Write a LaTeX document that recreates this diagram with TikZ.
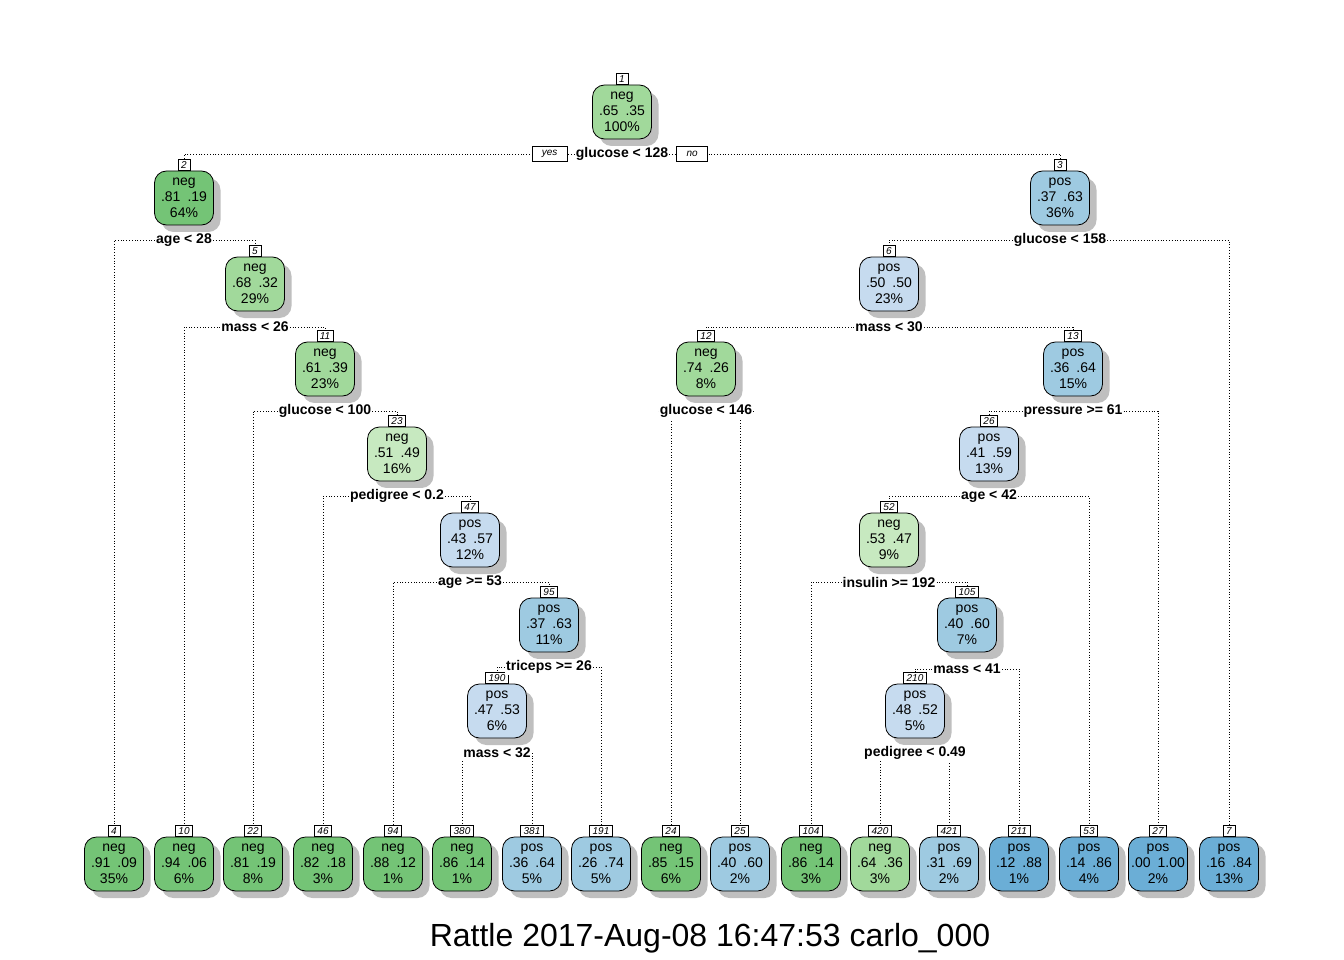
\documentclass[tikz,border=0pt]{standalone}
\usepackage{fontspec}
\setmainfont{Liberation Sans}
\usepackage{tikz}
\usetikzlibrary{positioning}
\usetikzlibrary{shadows}
\usepackage{xcolor}

\definecolor{dkgreen}{HTML}{74C476}
\definecolor{mdgreen}{HTML}{A1D99B}
\definecolor{ltgreen}{HTML}{C7E9C0}
\definecolor{ltblue}{HTML}{C6DBEF}
\definecolor{mdblue}{HTML}{9ECAE1}
\definecolor{dkblue}{HTML}{6BAED6}

\tikzset{
  box/.style={draw, line width=0.8pt, rounded corners=12pt, minimum width=59pt,
    minimum height=54pt, inner sep=0pt, align=center,
    font=\fontsize{14}{16}\selectfont,
    drop shadow={shadow xshift=7pt, shadow yshift=-7pt, fill=black!25, opacity=1}},
  tab/.style={draw, fill=white, line width=0.6pt, anchor=south, inner xsep=3pt,
    inner ysep=0pt, minimum width=12pt, minimum height=11pt,
    font=\fontsize{10}{10}\selectfont\itshape},
  split/.style={fill=white, inner sep=1pt, font=\fontsize{14}{14}\selectfont\bfseries},
  yesno/.style={draw, fill=white, line width=0.6pt, inner xsep=10pt, inner ysep=0pt,
    minimum height=15pt, font=\fontsize{10}{10}\selectfont\itshape},
  link/.style={line width=0.8pt, dash pattern=on 0.8pt off 2pt}
}

\begin{document}
\begin{tikzpicture}[x=1pt, y=-1pt]
  \useasboundingbox (0,0) rectangle (1344,960);

  % inner nodes
  \foreach \nm/\x/\y/\cl/\a/\b/\pc/\col in {
      1/622/112/neg/.65/.35/100/mdgreen,
      2/184/198/neg/.81/.19/64/dkgreen,
      3/1060/198/pos/.37/.63/36/mdblue,
      5/255/284/neg/.68/.32/29/mdgreen,
      6/889/284/pos/.50/.50/23/ltblue,
      11/325/369/neg/.61/.39/23/mdgreen,
      12/706/369/neg/.74/.26/8/mdgreen,
      13/1073/369/pos/.36/.64/15/mdblue,
      23/397/454/neg/.51/.49/16/ltgreen,
      26/989/454/pos/.41/.59/13/ltblue,
      47/470/540/pos/.43/.57/12/ltblue,
      52/889/540/neg/.53/.47/9/ltgreen,
      95/549/625/pos/.37/.63/11/mdblue,
      105/967/625/pos/.40/.60/7/mdblue,
      190/497/711/pos/.47/.53/6/ltblue,
      210/915/711/pos/.48/.52/5/ltblue}{
    \node[box, fill=\col] (n\nm) at (\x,\y) {\cl\\\a\hspace{7pt}\b\\\pc\%};
    \node[tab] (t\nm) at (n\nm.north) {\nm};
  }

  % leaves
  \foreach \nm/\x/\cl/\a/\b/\pc/\col in {
      4/114/neg/.91/.09/35/dkgreen,
      10/184/neg/.94/.06/6/dkgreen,
      22/253/neg/.81/.19/8/dkgreen,
      46/323/neg/.82/.18/3/dkgreen,
      94/393/neg/.88/.12/1/dkgreen,
      380/462/neg/.86/.14/1/dkgreen,
      381/532/pos/.36/.64/5/mdblue,
      191/601/pos/.26/.74/5/mdblue,
      24/671/neg/.85/.15/6/dkgreen,
      25/740/pos/.40/.60/2/mdblue,
      104/811/neg/.86/.14/3/dkgreen,
      420/880/neg/.64/.36/3/mdgreen,
      421/949/pos/.31/.69/2/mdblue,
      211/1019/pos/.12/.88/1/dkblue,
      53/1089/pos/.14/.86/4/dkblue,
      27/1158/pos/.00/1.00/2/dkblue,
      7/1229/pos/.16/.84/13/dkblue}{
    \node[box, fill=\col] (n\nm) at (\x,864) {\cl\\\a\hspace{7pt}\b\\\pc\%};
    \node[tab] (t\nm) at (n\nm.north) {\nm};
  }

  % split labels (placed first, drawn again on top of the connectors)
  \foreach \nm/\x/\y/\txt in {
      1/622/154/glucose < 128,
      2/184/240/age < 28,
      3/1060/240/glucose < 158,
      5/255/327/mass < 26,
      6/889/327/mass < 30,
      11/325/411/glucose < 100,
      12/706/411/glucose < 146,
      13/1073/411/pressure >= 61,
      23/397/496/pedigree < 0.2,
      26/989/496/age < 42,
      47/470/582/age >= 53,
      52/889/582/insulin >= 192,
      95/549/667/triceps >= 26,
      105/967/669/mass < 41,
      190/497/753/mass < 32,
      210/915/753/pedigree < 0.49}{
    \path (\x,\y) node[split, overlay, opacity=0] (s\nm) {\txt};
  }

  % connectors
  \foreach \s/\l/\r in {1/2/3, 2/4/5, 3/6/7, 5/10/11, 6/12/13, 11/22/23,
      12/24/25, 13/26/27, 23/46/47, 26/52/53, 47/94/95, 52/104/105,
      95/190/191, 105/210/211, 190/380/381, 210/420/421}{
    \draw[link] (s\s.west) -| (t\l.north);
    \draw[link] (s\s.east) -| (t\r.north);
  }

  \foreach \nm/\x/\y/\txt in {
      1/622/154/glucose < 128,
      2/184/240/age < 28,
      3/1060/240/glucose < 158,
      5/255/327/mass < 26,
      6/889/327/mass < 30,
      11/325/411/glucose < 100,
      12/706/411/glucose < 146,
      13/1073/411/pressure >= 61,
      23/397/496/pedigree < 0.2,
      26/989/496/age < 42,
      47/470/582/age >= 53,
      52/889/582/insulin >= 192,
      95/549/667/triceps >= 26,
      105/967/669/mass < 41,
      190/497/753/mass < 32,
      210/915/753/pedigree < 0.49}{
    \node[split] (s\nm) at (\x,\y) {\txt};
  }

  \node[yesno, left=7pt of s1] (yes) {yes};
  \node[yesno, right=7pt of s1] (no) {no};

  \node[font=\fontsize{32}{32}\selectfont] (title) at (710,938) {Rattle 2017-Aug-08 16:47:53 carlo\_000};
\end{tikzpicture}
\end{document}
